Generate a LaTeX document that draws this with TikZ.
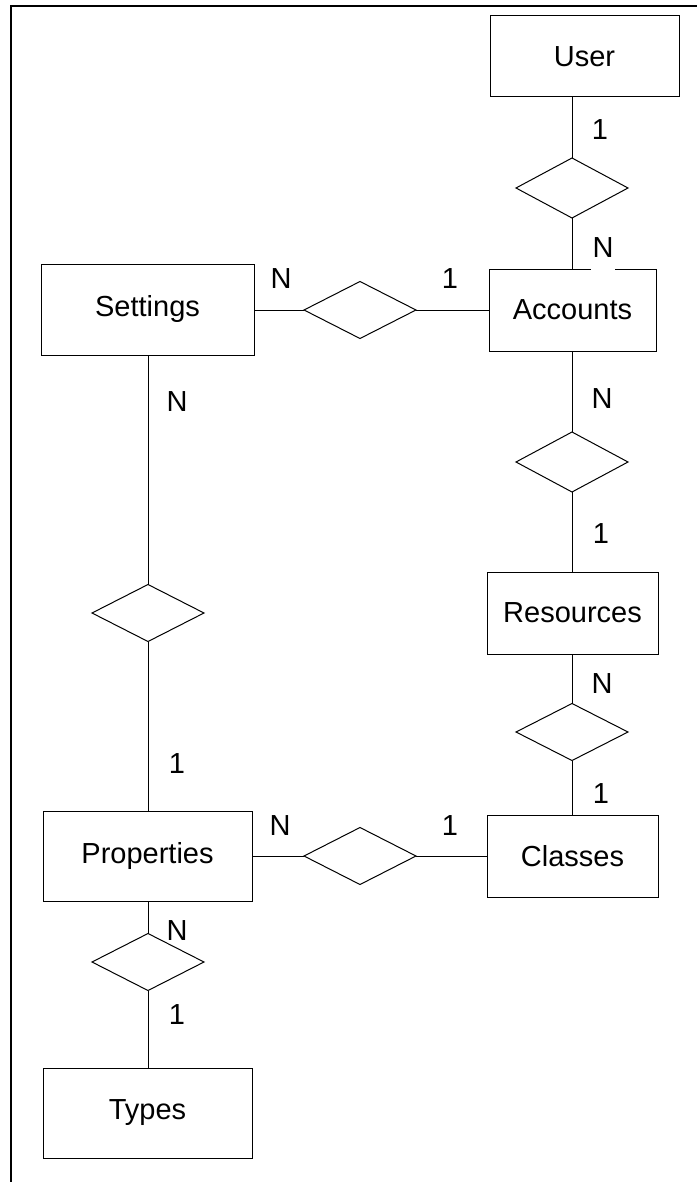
\documentclass[tikz,border=0pt]{standalone}
\usepackage{fontspec}
\setmainfont{Liberation Sans}
\usetikzlibrary{shapes.geometric}
\begin{document}
\begin{tikzpicture}[x=1pt,y=-1pt,
  entity/.style={draw, line width=1pt, rectangle, inner sep=0pt, outer sep=0pt, font=\fontsize{29}{34}\selectfont},
  rel/.style={draw, line width=1pt, diamond, aspect=2, inner sep=0pt, outer sep=0pt, minimum width=112pt, minimum height=57pt},
  card/.style={anchor=base, inner sep=0pt, font=\fontsize{29}{34}\selectfont},
  gapcard/.style={card, fill=white, inner xsep=2pt, text depth=12pt},
  link/.style={line width=1pt}]
\useasboundingbox (0,0) rectangle (697,1182);
\draw[line width=1.4pt] (11,1182) -- (11,6) -- (697,6);

% entities
\node[entity, minimum width=189pt, minimum height=81pt] (user) at (584.5,56.5) {User};
\node[entity, minimum width=167pt, minimum height=82pt] (acc) at (572.5,310) {Accounts};
\node[entity, minimum width=213pt, minimum height=91pt] (set) at (147.5,309.5) {Settings};
\node[entity, minimum width=171pt, minimum height=82pt] (res) at (572.5,613) {Resources};
\node[entity, minimum width=171pt, minimum height=82pt] (cls) at (572.5,856) {Classes};
\node[entity, minimum width=209pt, minimum height=90pt] (prop) at (147.5,856) {Properties};
\node[entity, minimum width=209pt, minimum height=90pt] (typ) at (147.5,1113) {Types};

% relationships
\node[rel, minimum height=60pt] (d1) at (572,188) {};
\node[rel] (d2) at (360,310) {};
\node[rel, minimum height=60pt] (d3) at (572,462) {};
\node[rel] (d4) at (572,732) {};
\node[rel] (d5) at (148,613) {};
\node[rel] (d6) at (360,856) {};
\node[rel] (d7) at (148,962) {};

% connectors
\draw[link] (d1.north |- user.south) -- (d1.north);
\draw[link] (d1.south) -- (d1.south |- acc.north);
\draw[link] (set.east |- d2.west) -- (d2.west);
\draw[link] (d2.east) -- (d2.east -| acc.west);
\draw[link] (d3.north |- acc.south) -- (d3.north);
\draw[link] (d3.south) -- (d3.south |- res.north);
\draw[link] (d4.north |- res.south) -- (d4.north);
\draw[link] (d4.south) -- (d4.south |- cls.north);
\draw[link] (d5.north |- set.south) -- (d5.north);
\draw[link] (d5.south) -- (d5.south |- prop.north);
\draw[link] (prop.east |- d6.west) -- (d6.west);
\draw[link] (d6.east) -- (d6.east -| cls.west);
\draw[link] (d7.north |- prop.south) -- (d7.north);
\draw[link] (d7.south) -- (d7.south |- typ.north);

% cardinalities
\node[card] (c1) at (600,140) {1};
\node[gapcard] (c2) at (603,258) {N};
\node[card] (c3) at (281,288) {N};
\node[card] (c4) at (450,288) {1};
\node[card] (c5) at (602,408) {N};
\node[card] (c6) at (601,543) {1};
\node[card] (c7) at (602,693) {N};
\node[gapcard] (c8) at (601,803) {1};
\node[card] (c9) at (177,411) {N};
\node[card] (c10) at (177,773) {1};
\node[card] (c11) at (280,835) {N};
\node[card] (c12) at (450,835) {1};
\node[card] (c13) at (177,940) {N};
\node[card] (c14) at (177,1024) {1};
\end{tikzpicture}
\end{document}
